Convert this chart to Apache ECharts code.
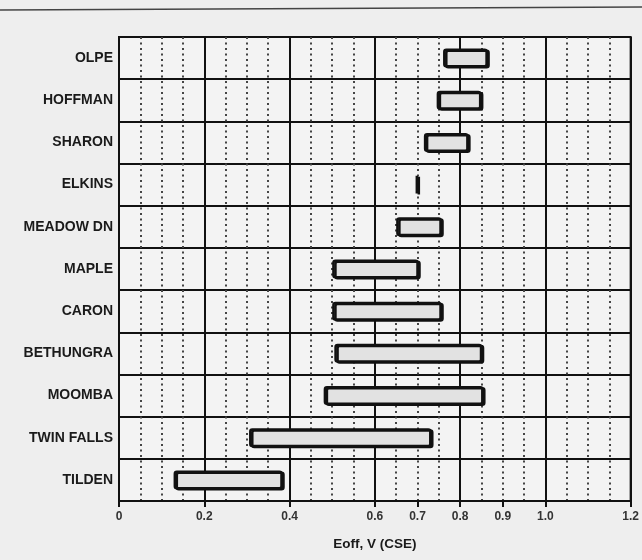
<!DOCTYPE html>
<html>
<head>
<meta charset="utf-8">
<script src="https://cdn.jsdelivr.net/npm/echarts@6/dist/echarts.min.js"></script>
<style>
html,body{margin:0;padding:0;background:#eeeeee;}
#c{width:642px;height:560px;}
</style>
</head>
<body>
<div id="c"></div>
<script>
const categories = ['OLPE','HOFFMAN','SHARON','ELKINS','MEADOW DN','MAPLE','CARON','BETHUNGRA','MOOMBA','TWIN FALLS','TILDEN'];
const rangeStart = [0.76, 0.745, 0.715, 0.697, 0.65, 0.50, 0.50, 0.505, 0.48, 0.305, 0.128];
const rangeEnd   = [0.865, 0.85, 0.82, 0.700, 0.757, 0.703, 0.757, 0.852, 0.855, 0.733, 0.384];
const tickValues = [0, 0.2, 0.4, 0.6, 0.7, 0.8, 0.9, 1.0, 1.2];
const tickLabels = ['0', '0.2', '0.4', '0.6', '0.7', '0.8', '0.9', '1.0', '1.2'];

const spans = rangeEnd.map((e, i) => +(e - rangeStart[i]).toFixed(4));

const chart = echarts.init(document.getElementById('c'));
const font = 'Liberation Sans, Arial, sans-serif';
chart.setOption({
  backgroundColor: '#eeeeee',
  animation: false,
  graphic: [{
    type: 'line',
    shape: { x1: 0, y1: 10, x2: 642, y2: 7 },
    style: { stroke: '#444', lineWidth: 1.5 }
  }],
  grid: {
    left: 119, right: 11, top: 37, bottom: 59,
    show: true, backgroundColor: '#f3f3f3', borderColor: '#111', borderWidth: 2
  },
  xAxis: [{
    type: 'value', min: 0, max: 1.2, interval: 0.05, position: 'bottom',
    name: 'Eoff, V (CSE)', nameLocation: 'middle', nameGap: 36,
    nameTextStyle: { fontFamily: font, fontWeight: 'bold', fontSize: 13.5, color: '#1a1a1a' },
    axisLine: { show: true, lineStyle: { color: '#111', width: 2 } },
    axisTick: { show: true, length: 6, lineStyle: { color: '#111', width: 2 }, customValues: tickValues },
    axisLabel: {
      customValues: tickValues,
      formatter: v => { const i = tickValues.findIndex(t => Math.abs(t - v) < 1e-6); return i >= 0 ? tickLabels[i] : ''; },
      fontFamily: font, fontWeight: 'bold', fontSize: 12, color: '#333', margin: 10
    },
    splitLine: { show: false }
  }, {
    type: 'value', min: 0, max: 1.2, interval: 0.05, position: 'top',
    axisLine: { show: false }, axisTick: { show: false }, axisLabel: { show: false },
    splitLine: { show: true, lineStyle: { color: '#444', width: 2, type: [2, 3.5] } }
  }, {
    type: 'value', min: 0, max: 1.2, interval: 0.2, position: 'top',
    axisLine: { show: false }, axisTick: { show: false }, axisLabel: { show: false },
    splitLine: { show: true, lineStyle: { color: '#111', width: 2 } }
  }],
  yAxis: {
    type: 'category', data: categories, inverse: true,
    axisLine: { show: false }, axisTick: { show: false },
    axisLabel: { fontFamily: font, fontWeight: 'bold', fontSize: 14, color: '#1a1a1a', margin: 6 },
    splitLine: { show: true, lineStyle: { color: '#111', width: 2 } }
  },
  series: [{
    type: 'bar', stack: 'r', xAxisIndex: 0, data: rangeStart,
    itemStyle: { color: 'transparent' }, barWidth: 19, silent: true
  }, {
    type: 'bar', stack: 'r', xAxisIndex: 0, data: spans, barWidth: 19,
    itemStyle: {
      color: '#e2e2e2', borderColor: '#111', borderWidth: 2.5, borderRadius: 2,
      shadowColor: '#111', shadowOffsetX: 2, shadowOffsetY: 1, shadowBlur: 0
    }
  }]
});
</script>
</body>
</html>
